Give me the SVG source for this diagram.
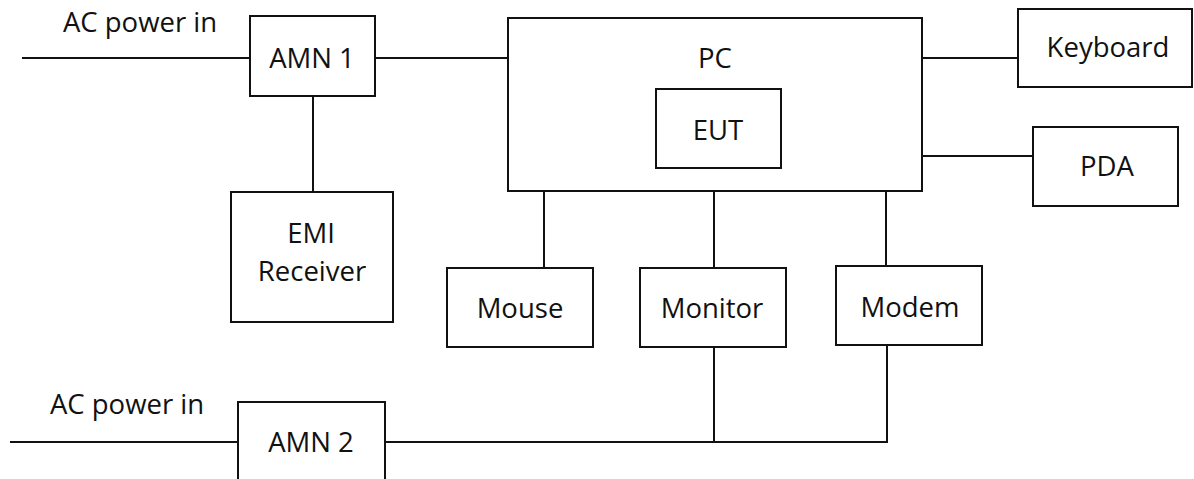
<svg xmlns="http://www.w3.org/2000/svg" width="1194" height="479" viewBox="0 0 1194 479">
<style>
.box{fill:#fff;stroke:#111;stroke-width:2}
.ln{fill:none;stroke:#111;stroke-width:2}
text{font-family:"Open Sans","Liberation Sans",sans-serif;font-size:27.5px;fill:#111;text-anchor:middle}
</style>
<rect width="1194" height="479" fill="#fff"/>
<g id="connectors">
<path class="ln" d="M22 58H250"/>
<path class="ln" d="M375 58H508"/>
<path class="ln" d="M313 96V192"/>
<path class="ln" d="M922 58H1018"/>
<path class="ln" d="M922 156H1033"/>
<path class="ln" d="M544 191V268"/>
<path class="ln" d="M714 191V268"/>
<path class="ln" d="M886 191V266"/>
<path class="ln" d="M10 442H238"/>
<path class="ln" d="M385 442H887V345"/>
<path class="ln" d="M714 347V442"/>
</g>
<g id="label-ac1"><text x="140" y="32">AC power in</text></g>
<g id="label-ac2"><text x="127" y="414">AC power in</text></g>
<g id="amn1"><rect class="box" x="250" y="16" width="125" height="80"/><text x="312" y="68">AMN 1</text></g>
<g id="pc"><rect class="box" x="508" y="18" width="414" height="173"/><text x="715" y="68">PC</text></g>
<g id="eut"><rect class="box" x="656" y="89" width="125" height="79"/><text x="718" y="140">EUT</text></g>
<g id="keyboard"><rect class="box" x="1018" y="9" width="174" height="78"/><text x="1108" y="57">Keyboard</text></g>
<g id="pda"><rect class="box" x="1033" y="127" width="145" height="79"/><text x="1107" y="176">PDA</text></g>
<g id="emi"><rect class="box" x="231" y="192" width="162" height="130"/><text x="311" y="243">EMI</text><text x="312" y="281">Receiver</text></g>
<g id="mouse"><rect class="box" x="447" y="268" width="146" height="79"/><text x="520" y="318">Mouse</text></g>
<g id="monitor"><rect class="box" x="640" y="268" width="146" height="79"/><text x="712" y="318">Monitor</text></g>
<g id="modem"><rect class="box" x="836" y="266" width="146" height="79"/><text x="910" y="317">Modem</text></g>
<g id="amn2"><rect class="box" x="238" y="402" width="147" height="90"/><text x="311" y="452">AMN 2</text></g>
</svg>
